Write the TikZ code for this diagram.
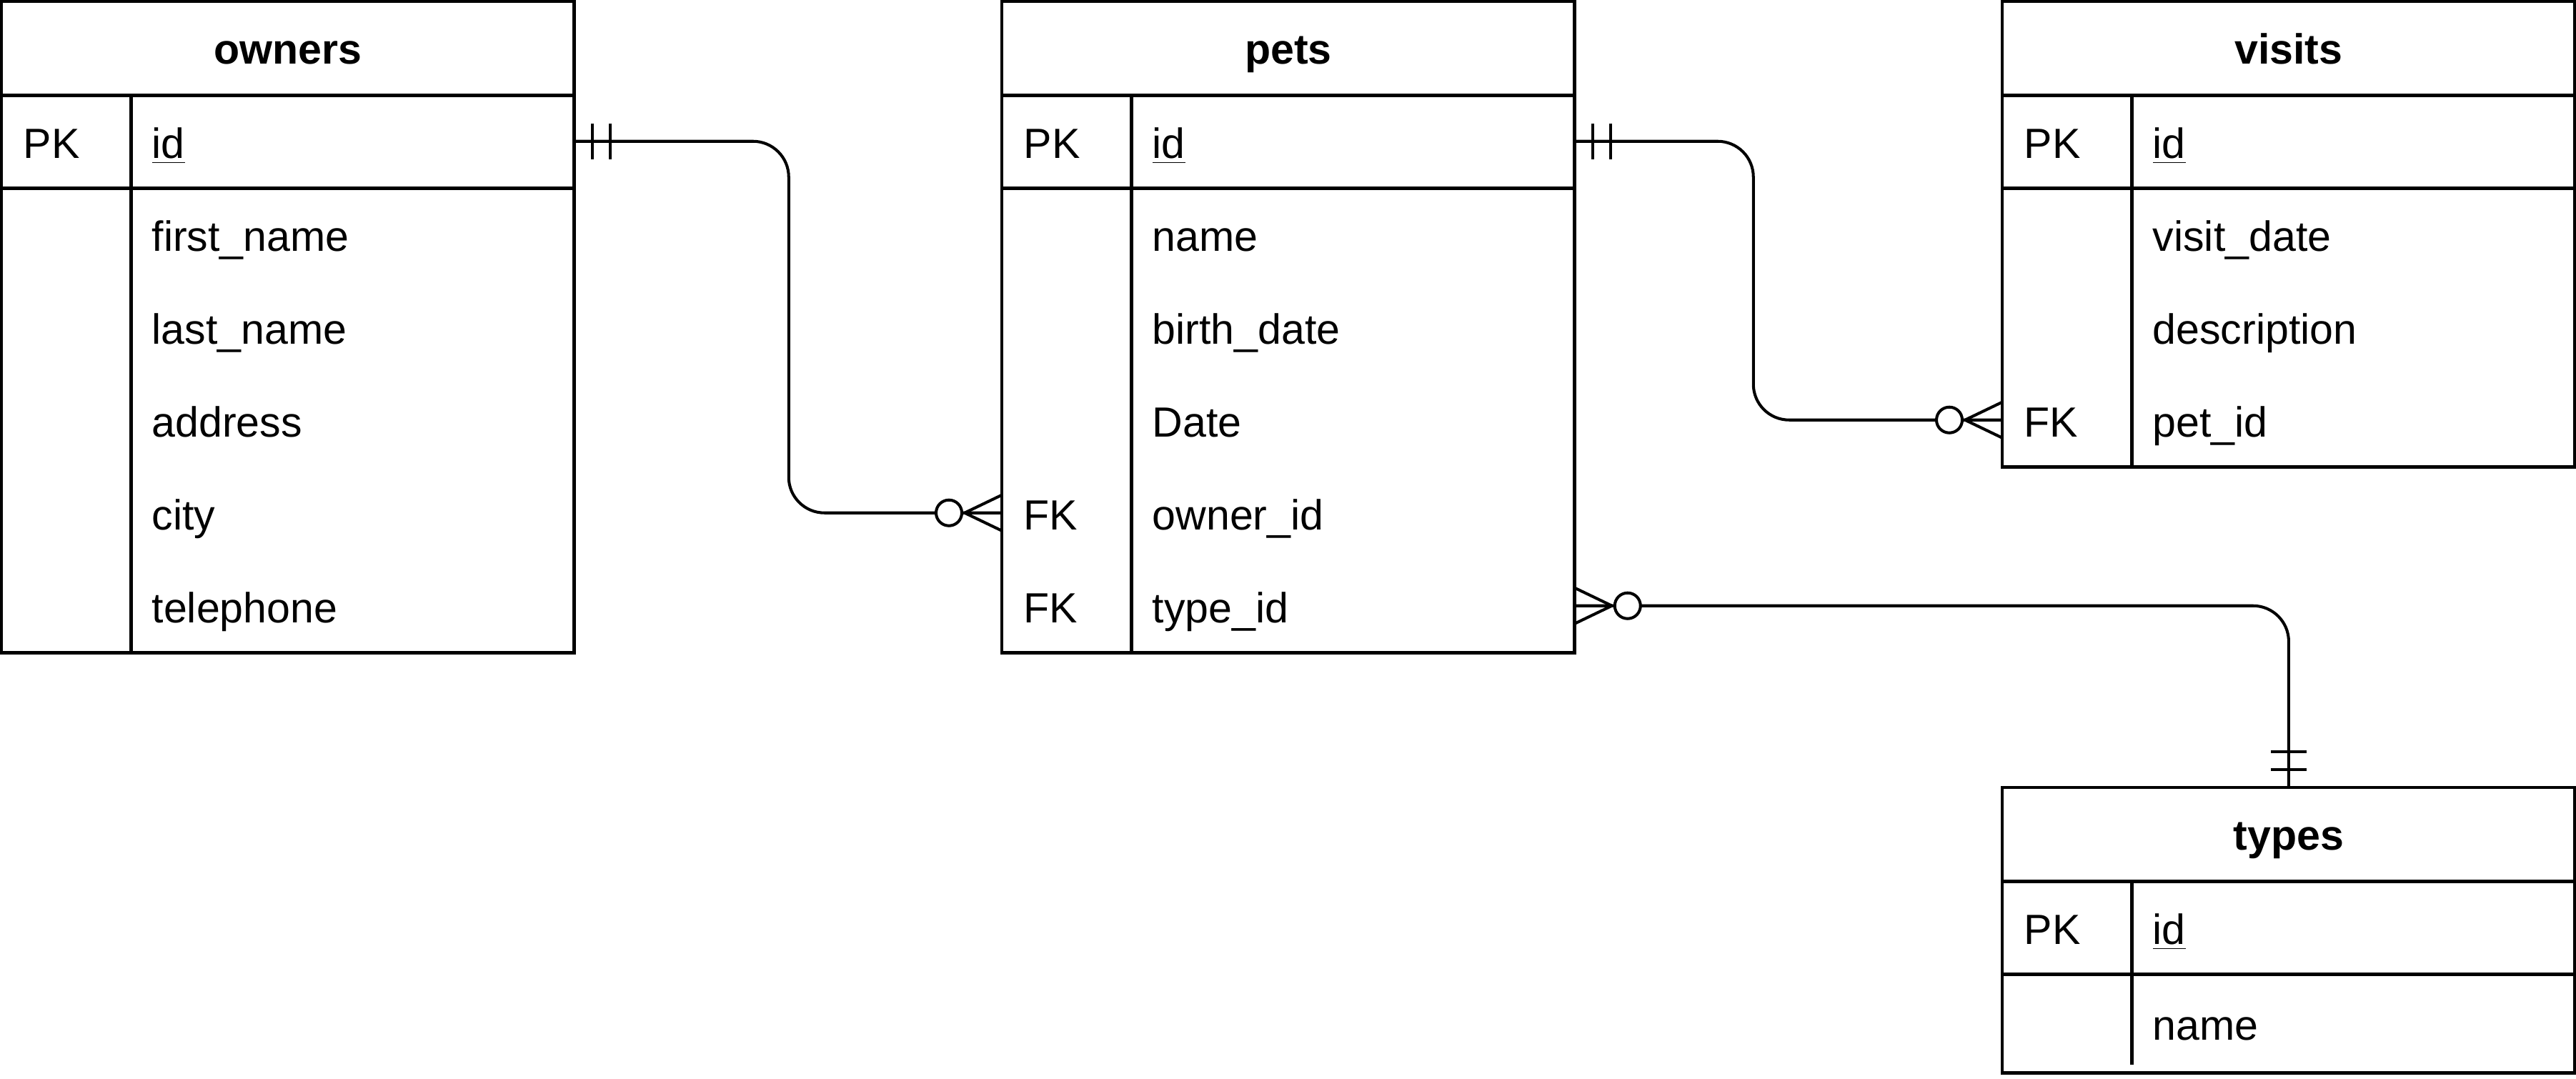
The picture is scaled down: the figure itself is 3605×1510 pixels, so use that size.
\documentclass[tikz,border=0pt]{standalone}
\usepackage{fontspec}
\setmainfont{Liberation Sans}
\usetikzlibrary{calc}

\tikzset{
  tbl/.style={line width=1.35pt},
  conn/.style={line width=1.15pt},
  rel/.style={conn, rounded corners=0.5cm},
  cell/.style={anchor=north west, inner sep=0pt, inner xsep=0.3cm,
    minimum height=1.3cm, text height=0.5cm, text depth=0.02cm,
    align=left, font=\fontsize{16.8}{20}\selectfont},
  hdr/.style={anchor=north west, inner sep=0pt, minimum width=8cm,
    minimum height=1.3cm, text height=0.46cm, text depth=0.02cm,
    font=\fontsize{16.8}{20}\selectfont\bfseries},
  keycell/.style={cell, text width=1.2cm},
  fieldcell/.style={cell, text width=5.6cm},
  onemark/.pic={\draw[conn] (25,-25) -- (25,25) (50,-25) -- (50,25);},
  manymark/.pic={\draw[conn] (0,-25) -- (52,0) -- (0,25);
    \draw[conn, fill=white] (74,0) circle[radius=0.18cm];}
}

\begin{document}
\begin{tikzpicture}[x=0.01cm, y=-0.01cm]
  \useasboundingbox (0,0) rectangle (3605,1510);

  % owners
  \node[hdr] (owners) at (2,2) {owners};
  \node[keycell] (ownerspk) at (2,132) {PK};
  \node[fieldcell] (ownersid) at (182,132) {\underline{id}};
  \foreach \k/\f [count=\i] in {/first\_name, /last\_name, /address, /city, /telephone} {
    \node[keycell] (ownersk\i) at (2,132+130*\i) {\k};
    \node[fieldcell] (owners\i) at (182,132+130*\i) {\f};
  }
  \draw[tbl] (owners.north west) rectangle (owners5.south east);
  \draw[tbl] (owners.south west) -- (owners.south east);
  \draw[tbl] (ownerspk.south west) -- (ownersid.south east);
  \draw[tbl] (ownerspk.north east) -- (ownersk5.south east);

  % pets
  \node[hdr] (pets) at (1402,2) {pets};
  \node[keycell] (petspk) at (1402,132) {PK};
  \node[fieldcell] (petsid) at (1582,132) {\underline{id}};
  \foreach \k/\f [count=\i] in {/name, /birth\_date, /Date, FK/owner\_id, FK/type\_id} {
    \node[keycell] (petsk\i) at (1402,132+130*\i) {\k};
    \node[fieldcell] (pets\i) at (1582,132+130*\i) {\f};
  }
  \draw[tbl] (pets.north west) rectangle (pets5.south east);
  \draw[tbl] (pets.south west) -- (pets.south east);
  \draw[tbl] (petspk.south west) -- (petsid.south east);
  \draw[tbl] (petspk.north east) -- (petsk5.south east);

  % visits
  \node[hdr] (visits) at (2802,2) {visits};
  \node[keycell] (visitspk) at (2802,132) {PK};
  \node[fieldcell] (visitsid) at (2982,132) {\underline{id}};
  \foreach \k/\f [count=\i] in {/visit\_date, /description, FK/pet\_id} {
    \node[keycell] (visitsk\i) at (2802,132+130*\i) {\k};
    \node[fieldcell] (visits\i) at (2982,132+130*\i) {\f};
  }
  \draw[tbl] (visits.north west) rectangle (visits3.south east);
  \draw[tbl] (visits.south west) -- (visits.south east);
  \draw[tbl] (visitspk.south west) -- (visitsid.south east);
  \draw[tbl] (visitspk.north east) -- (visitsk3.south east);

  % types
  \node[hdr] (types) at (2802,1102) {types};
  \node[keycell] (typespk) at (2802,1232) {PK};
  \node[fieldcell] (typesid) at (2982,1232) {\underline{id}};
  \node[keycell, minimum height=1.38cm] (typesk1) at (2802,1362) {};
  \node[fieldcell, minimum height=1.38cm] (types1) at (2982,1362) {name};
  \draw[tbl] (types.north west) rectangle (types1.south east);
  \draw[tbl] (types.south west) -- (types.south east);
  \draw[tbl] (typespk.south west) -- (typesid.south east);
  \draw[tbl] (typespk.north east) -- ($(typesk1.south east)+(0,-11)$);

  % relations
  \draw[rel] (ownersid.east) -- ++(300,0) |- (petsk4.west);
  \draw[rel] (petsid.east) -- ++(250,0) |- (visitsk3.west);
  \draw[rel] (pets5.east) -| (types.north);

  \pic at (ownersid.east) {onemark};
  \pic[rotate=180] at (petsk4.west) {manymark};
  \pic at (petsid.east) {onemark};
  \pic[rotate=180] at (visitsk3.west) {manymark};
  \pic at (pets5.east) {manymark};
  \pic[rotate=90] at (types.north) {onemark};
\end{tikzpicture}
\end{document}
